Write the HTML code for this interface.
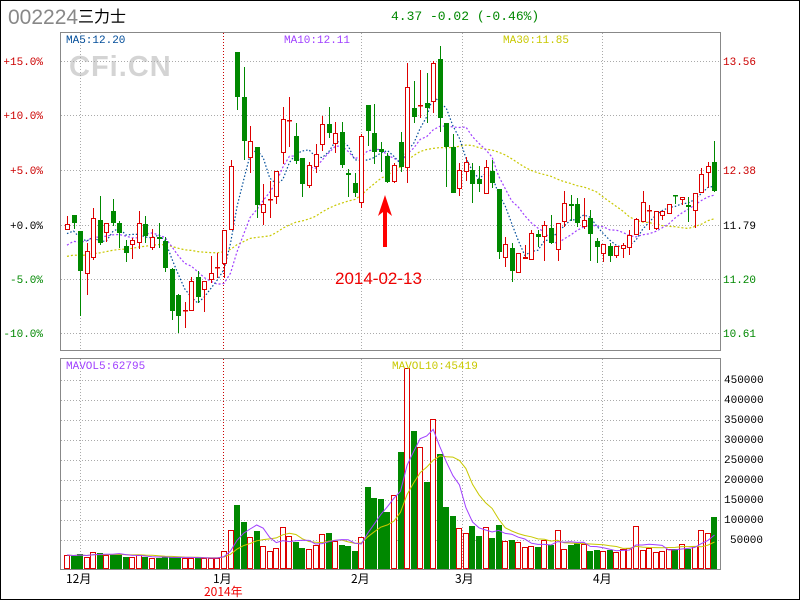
<!DOCTYPE html>
<html><head><meta charset="utf-8"><style>
body{margin:0;background:#fff;}
svg{display:block;font-family:"Liberation Mono","Noto Sans CJK SC",monospace;}
</style></head><body>
<svg id="s" width="800" height="600" xmlns="http://www.w3.org/2000/svg">
<rect x="0.5" y="0.5" width="799" height="599" fill="#fff" stroke="#000"/>
<text x="8" y="24" font-family="Liberation Sans,sans-serif" font-size="21" fill="#888">002224</text>
<text x="78" y="22" font-family="'Noto Sans CJK SC',sans-serif" font-size="16" fill="#000">三力士</text>
<text x="391" y="20" font-size="13" fill="#080">4.37 -0.02 (-0.46%)</text>
<text x="69" y="76" font-family="Liberation Sans,sans-serif" font-weight="bold" font-size="29" letter-spacing="1" fill="#d4d4d4">CFi.CN</text>
<g id="g"></g>
<text x="66" y="43" font-size="11" fill="#004c99">MA5:12.20</text>
<text x="284" y="43" font-size="11" fill="#a040ff">MA10:12.11</text>
<text x="503" y="43" font-size="11" fill="#c8c800">MA30:11.85</text>
<text x="66" y="369" font-size="11" fill="#a040ff">MAVOL5:62795</text>
<text x="392" y="369" font-size="11" fill="#c8c800">MAVOL10:45419</text>
<g font-size="11" text-anchor="end">
<text x="43" y="65" fill="#c00">+15.0%</text>
<text x="43" y="119" fill="#c00">+10.0%</text>
<text x="43" y="174" fill="#c00">+5.0%</text>
<text x="43" y="229" fill="#000">+0.0%</text>
<text x="43" y="283" fill="#080">-5.0%</text>
<text x="43" y="337" fill="#080">-10.0%</text>
</g>
<g font-size="11">
<text x="723" y="65" fill="#c00">13.56</text>
<text x="723" y="174" fill="#c00">12.38</text>
<text x="723" y="229" fill="#000">11.79</text>
<text x="723" y="283" fill="#080">11.20</text>
<text x="723" y="337" fill="#080">10.61</text>
</g>
<g font-size="11" fill="#000">
<text x="724" y="383">450000</text><text x="724" y="403">400000</text><text x="724" y="423">350000</text>
<text x="724" y="443">300000</text><text x="724" y="463">250000</text><text x="724" y="483">200000</text>
<text x="724" y="503">150000</text><text x="724" y="523">100000</text><text x="730" y="543">50000</text>
</g>
<g font-family="'Noto Sans CJK SC',sans-serif" font-size="12" fill="#000">
<text x="66" y="583">12月</text><text x="213" y="583">1月</text><text x="351" y="583">2月</text>
<text x="455" y="583">3月</text><text x="593" y="583">4月</text>
<text x="204" y="596" fill="#e00">2014年</text>
</g>
<text x="335" y="284" font-family="Liberation Sans,sans-serif" font-size="17" fill="#e00">2014-02-13</text>
<polygon points="385,195 378,216 383,212 383,247 387,247 387,212 392,216" fill="#f00"/>
</svg>
<script>
var C=[
[230,224,216,230],[215,223,215,229],[231,271,231,316],[274,251,243,295],[258,218,208,260],[220,243,196,245],[233,223,223,242],[211,223,199,226],[223,233,221,248],[246,253,240,262],
[245,240,238,259],[243,223,211,249],[224,236,216,243],[248,237,229,250],[237,239,223,248],[241,268,237,272],[269,311,268,320],[295,316,294,333],[310,310,302,328],[311,281,277,311],
[277,297,271,303],[290,281,281,312],[280,273,256,283],[267,267,253,278],[264,230,230,278],[230,166,160,230],[52,97,52,110],[97,141,67,160],[158,141,126,173],[147,205,147,218],
[213,204,184,225],[199,199,181,218],[197,171,171,204],[153,119,107,164],[120,120,97,147],[136,161,123,164],[158,184,158,197],[186,165,162,188],[167,154,144,173],[145,124,116,151],
[124,133,107,138],[144,133,122,153],[132,165,122,168],[173,175,169,197],[183,193,173,197],[203,136,134,208],[105,131,105,146],[133,152,104,164],[149,152,142,172],[156,182,153,183],
[182,165,163,183],[142,167,132,172],[168,87,63,183],[108,117,81,123],[105,105,70,118],[103,108,73,123],[102,63,61,113],[59,118,46,132],[123,147,123,187],[147,193,134,193],
[189,170,163,196],[172,162,157,181],[170,184,163,203],[179,184,166,192],[194,167,160,194],[171,183,160,188],[189,252,189,259],[258,244,237,267],[248,271,243,282],[273,253,253,273],
[259,257,245,259],[260,233,230,260],[234,237,230,247],[237,225,221,261],[228,243,215,244],[250,223,223,261],[222,203,191,227],[204,206,195,221],[204,223,198,227],[227,220,198,229],
[218,234,210,261],[241,247,238,263],[254,244,244,262],[246,256,243,262],[256,246,246,258],[249,245,243,258],[248,235,230,255],[235,219,218,235],[222,202,191,222],[211,210,205,230],
[229,211,211,230],[216,211,211,220],[214,204,204,214],[195,196,195,204],[200,197,197,205],[205,207,197,222],[211,193,193,228],[193,174,168,193],[173,166,162,188],[162,191,141,192]];
var V=[555,556,554,557,552,553,555,554,554,557,557,555,557,558,558,557,557,557,558,558,558,558,558,558,551,530,505,522,537,531,
546,551,548,527,536,542,548,549,545,534,533,541,545,546,551,537,487,498,499,512,495,452,368,431,447,482,419,454,507,516,
528,533,526,536,527,538,525,541,540,542,547,546,547,540,545,530,549,545,543,544,551,550,551,550,552,549,548,526,550,548,
552,551,549,549,544,549,546,530,533,517];
var R="#d00",G="#080",o="";
function X(i){return 67+i*6.54;}
[61,115,170,225,279,333].forEach(function(y){o+='<line x1="61" x2="720" y1="'+(y+.5)+'" y2="'+(y+.5)+'" stroke="#aaa" stroke-dasharray="1,2"/>';});
for(var y=380;y<=540;y+=20)o+='<line x1="61" x2="720" y1="'+(y+.5)+'" y2="'+(y+.5)+'" stroke="#aaa" stroke-dasharray="1,2"/>';
[80,361,462,602].forEach(function(x){o+='<line x1="'+(x+.5)+'" x2="'+(x+.5)+'" y1="33" y2="350" stroke="#aaa" stroke-dasharray="1,2"/><line x1="'+(x+.5)+'" x2="'+(x+.5)+'" y1="359" y2="569" stroke="#aaa" stroke-dasharray="1,2"/>';});
o+='<line x1="223.5" x2="223.5" y1="33" y2="350" stroke="#c00" stroke-dasharray="1,2"/><line x1="223.5" x2="223.5" y1="359" y2="569" stroke="#c00" stroke-dasharray="1,2"/>';
o+='<rect x="60.5" y="32.5" width="660" height="318" fill="none" stroke="#888"/><rect x="60.5" y="358.5" width="660" height="211" fill="none" stroke="#888"/>';
var cl=C.map(function(c){return c[1];});
var pre=[];for(var k=0;k<29;k++)pre.push(k>23?236:262);
var all=pre.concat(cl);
function ma(n,col,dash){var p=[];for(var i=0;i<C.length;i++){var s=0;for(var j=0;j<n;j++)s+=all[29+i-j];p.push(X(i).toFixed(1)+','+(s/n).toFixed(1));}
o+='<polyline points="'+p.join(' ')+'" fill="none" stroke="'+col+'" stroke-width="1.2" stroke-dasharray="'+dash+'"/>';}
ma(30,"#c8c800","2,2");ma(10,"#a040ff","2,2");ma(5,"#004c99","1.5,2");
C.forEach(function(c,i){var x=Math.round(X(i)),red=c[0]>=c[1],col=red?R:G;
var t=Math.min(c[0],c[1]),b=Math.max(c[0],c[1]);
o+='<line x1="'+(x+.5)+'" x2="'+(x+.5)+'" y1="'+c[2]+'" y2="'+c[3]+'" stroke="'+col+'"/>';
if(b-t<1.5)o+='<rect x="'+(x-2)+'" y="'+t+'" width="5" height="1.5" fill="'+col+'"/>';
else if(red)o+='<rect x="'+(x-1.5)+'" y="'+(t+.5)+'" width="4" height="'+(b-t-1)+'" fill="#fff" stroke="'+col+'"/>';
else o+='<rect x="'+(x-2)+'" y="'+t+'" width="5" height="'+(b-t)+'" fill="'+col+'"/>';});
V.forEach(function(v,i){var x=Math.round(X(i)),c=C[i],red=c[0]>=c[1];
if(red)o+='<rect x="'+(x-2.5)+'" y="'+(v+.5)+'" width="5" height="'+(568-v)+'" fill="#fff" stroke="'+R+'"/>';
else o+='<rect x="'+(x-3)+'" y="'+v+'" width="6" height="'+(569-v)+'" fill="'+G+'"/>';});
function mv(n,col){var p=[];for(var i=0;i<V.length;i++){var s=0,m=0;for(var j=0;j<n&&i-j>=0;j++){s+=569-V[i-j];m++;}p.push(X(i).toFixed(1)+','+(569-s/m).toFixed(1));}
o+='<polyline points="'+p.join(' ')+'" fill="none" stroke="'+col+'" stroke-width="1"/>';}
mv(10,"#c8c800");mv(5,"#a040ff");
document.getElementById("g").innerHTML=o;
</script>
</body></html>
